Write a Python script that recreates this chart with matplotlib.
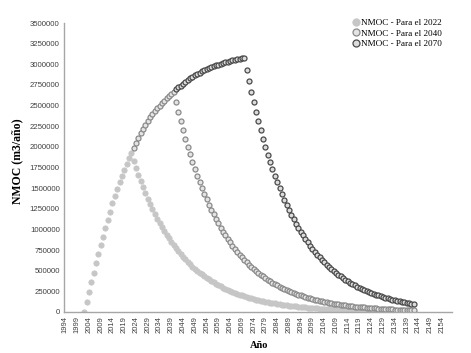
import matplotlib
matplotlib.use("Agg")
import matplotlib.pyplot as plt

# ---------------- data (values in thousands of m3/año) ----------------
growth_2002_2022 = [0, 120, 243, 365, 474, 590, 700, 810, 910, 1020, 1110, 1215,
                    1320, 1405, 1490, 1575, 1650, 1720, 1790, 1860, 1920]
growth_2023_2040 = [1985, 2050, 2110, 2165, 2220, 2270, 2315, 2360, 2400, 2435,
                    2470, 2500, 2530, 2560, 2590, 2620, 2645, 2670]
growth_2041_2070 = [2695, 2720, 2743, 2765, 2787, 2808, 2828, 2847, 2865, 2882,
                    2898, 2913, 2927, 2940, 2952, 2964, 2975, 2986, 2996, 3006,
                    3015, 3024, 3032, 3040, 3047, 3054, 3061, 3068, 3074, 3080]

decay_2022 = [1830, 1744, 1663, 1585, 1510, 1440, 1372, 1308, 1246, 1188,
              1132, 1079, 1029, 981, 935, 891, 849, 809, 771, 735,
              701, 668, 637, 607, 578, 551, 525, 501, 477, 455,
              434, 413, 394, 375, 358, 341, 325, 310, 295, 281,
              268, 256, 244, 232, 221, 211, 201, 192, 183, 174,
              166, 158, 151, 144, 137, 131, 124, 119, 113, 108,
              103, 98, 93, 89, 85, 81, 77, 73, 70, 67,
              64, 61, 58, 55, 52, 50, 48, 45, 43, 41,
              39, 37.5, 36, 34, 32, 31, 29.5, 28, 27, 25.5,
              24, 23, 22, 21, 20, 19, 18, 17.4, 16.6, 15.8,
              15, 14.4, 13.7, 13.1, 12.5, 11.9, 11.3, 10.8, 10.3, 9.8,
              9.3, 8.9, 8.5, 8.1, 7.7, 7.3, 7.0, 6.7, 6.4, 6.0]

decay_2040 = [2545, 2426, 2312, 2204, 2100, 2002, 1908, 1819, 1733, 1652,
              1575, 1501, 1431, 1364, 1300, 1239, 1181, 1125, 1073, 1022,
              974, 929, 885, 844, 804, 767, 731, 696, 664, 633,
              603, 575, 548, 522, 498, 474, 452, 431, 411, 391,
              373, 356, 339, 323, 308, 293, 280, 267, 254, 242,
              231, 220, 210, 200, 191, 182, 173, 165, 157, 150,
              143, 136, 130, 124, 118, 112, 107, 102, 97, 93,
              88, 84, 80, 77, 73, 70, 66, 63, 60, 57,
              55, 52, 50, 47, 45, 43, 41, 39, 37, 36,
              34, 32, 31, 29, 28, 27, 25, 24, 23, 22, 21, 20]

decay_2070 = [2936, 2798, 2667, 2542, 2423, 2309, 2201, 2098, 2000, 1906,
              1817, 1731, 1650, 1573, 1499, 1429, 1362, 1298, 1237, 1179,
              1124, 1071, 1021, 973, 928, 884, 843, 803, 766, 730,
              696, 663, 632, 602, 574, 547, 521, 497, 474, 452,
              430, 410, 391, 373, 355, 339, 323, 308, 293, 279,
              266, 254, 242, 231, 220, 209, 200, 190, 181, 173,
              165, 157, 150, 143, 136, 130, 124, 118, 112, 107, 102, 97]

series_labels = ["NMOC - Para el 2022", "NMOC - Para el 2040", "NMOC - Para el 2070"]
x_tick_years = list(range(1994, 2155, 5))
y_ticks = list(range(0, 3500001, 250000))

# build series
y2022 = growth_2002_2022 + decay_2022
x2022 = list(range(2002, 2002 + len(y2022)))
y2040 = growth_2023_2040 + decay_2040
x2040 = list(range(2023, 2023 + len(y2040)))
y2070 = growth_2041_2070 + decay_2070
x2070 = list(range(2041, 2041 + len(y2070)))

# ---------------- figure ----------------
fig = plt.figure(figsize=(4.71, 3.53), dpi=100)
ax = fig.add_axes([64/471, 1-312/353, (452-64)/471, (312-23)/353])

ax.plot(x2022, [v*1000 for v in y2022], 'o', ls='none', ms=3.8,
        mfc='#c6c6c6', mec='#c6c6c6', mew=0.6, label=series_labels[0])
ax.plot(x2040, [v*1000 for v in y2040], 'o', ls='none', ms=3.6,
        mfc='#e4e4e4', mec='#8a8a8a', mew=0.9, label=series_labels[1])
ax.plot(x2070, [v*1000 for v in y2070], 'o', ls='none', ms=3.6,
        mfc='#dcdcdc', mec='#4a4a4a', mew=0.9, label=series_labels[2])

ax.set_xlim(1993.4, 2158.3)
ax.set_ylim(0, 3500000)
ax.set_xticks(x_tick_years)
ax.set_xticklabels([str(y) for y in x_tick_years], rotation=90,
                   family='Liberation Sans', fontsize=5.5, color='#404040')
ax.set_yticks(y_ticks)
ax.set_yticklabels([str(v) for v in y_ticks], family='Liberation Sans',
                   fontsize=5.6, color='#404040')
ax.tick_params(axis='both', length=0, pad=3)

for s in ['top', 'right']:
    ax.spines[s].set_visible(False)
for s in ['left', 'bottom']:
    ax.spines[s].set_color('#a6a6a6')
    ax.spines[s].set_linewidth(1.0)

fig.text(17/471, 1-161/353, "NMOC (m3/año)", rotation=90, ha='center', va='center',
         family='Liberation Serif', fontweight='bold', fontsize=8.5)
fig.text(259/471, 1-346/353, "Año", ha='center', va='center',
         family='Liberation Serif', fontweight='bold', fontsize=7.5)

handles, labels = ax.get_legend_handles_labels()
leg = ax.legend(handles, labels, loc='upper left', bbox_to_anchor=(351/471, 1-19/353),
                bbox_transform=fig.transFigure, frameon=False,
                prop={'family': 'Liberation Serif', 'size': 6.6},
                handletextpad=0.1, labelspacing=0.2, markerscale=1.4,
                handlelength=1.0, borderaxespad=0, borderpad=0)

fig.savefig("out.png", dpi=100)
